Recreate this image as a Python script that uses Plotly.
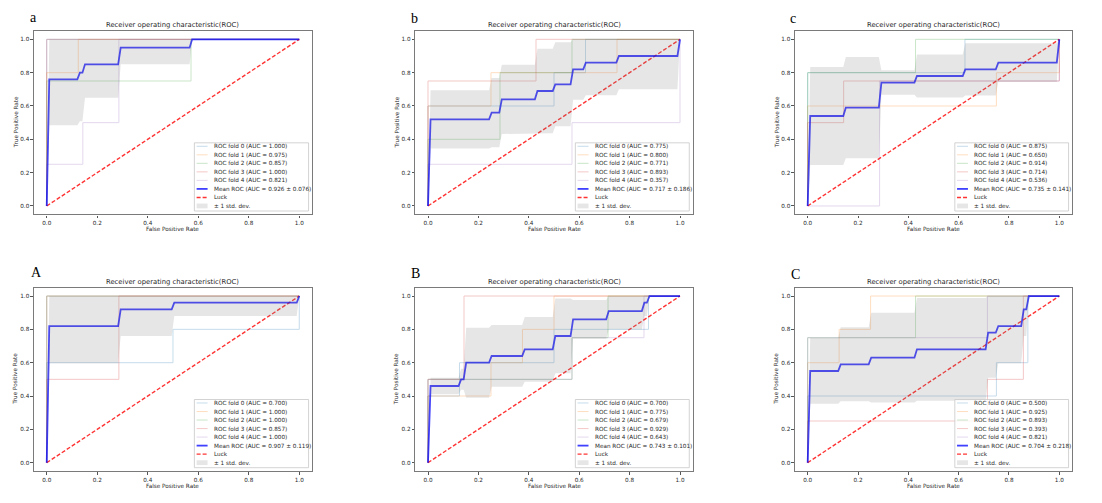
import plotly.graph_objects as go

# ---------------- data ----------------
tick_vals = [0.0, 0.2, 0.4, 0.6, 0.8, 1.0]
tick_text = ["0.0", "0.2", "0.4", "0.6", "0.8", "1.0"]
luck_x = [0, 1]
luck_y = [0, 1]

# panel a
a_fold_fpr = [[0, 0, 1], [0, 0, 0.125, 0.125, 1], [0, 0, 0.5714, 0.5714, 1], [0, 0, 1],
              [0, 0, 0.1429, 0.1429, 0.2857, 0.2857, 1]]
a_fold_tpr = [[0, 1, 1], [0, 0.8, 0.8, 1, 1], [0, 0.75, 0.75, 1, 1], [0, 1, 1],
              [0, 0.25, 0.25, 0.5, 0.5, 1, 1]]
a_fold_auc = ["1.000", "0.975", "0.857", "1.000", "0.821"]
a_mean_auc = "0.926 ± 0.076"
a_mean_fpr = [0, 0.0101, 0.1212, 0.1313, 0.1414, 0.1515, 0.2828, 0.2929, 0.5657, 0.5758, 1]
a_mean_tpr = [0, 0.76, 0.76, 0.80, 0.80, 0.85, 0.85, 0.95, 0.95, 1, 1]
a_std_lo = [0, 0.485, 0.485, 0.508, 0.508, 0.65, 0.65, 0.85, 0.85, 1, 1]
a_std_hi = [0, 1, 1, 1, 1, 1, 1, 1, 1, 1, 1]

# panel b
b_fold_fpr = [[0, 0, 0.5, 0.5, 0.625, 0.625, 1], [0, 0, 0.25, 0.25, 0.75, 0.75, 1],
              [0, 0, 0.2857, 0.2857, 0.5714, 0.5714, 1], [0, 0, 0.4286, 0.4286, 1],
              [0, 0, 0.5714, 0.5714, 1, 1]]
b_fold_tpr = [[0, 0.6, 0.6, 0.8, 0.8, 1, 1], [0, 0.6, 0.6, 0.8, 0.8, 1, 1],
              [0, 0.4, 0.4, 0.8, 0.8, 1, 1], [0, 0.75, 0.75, 1, 1],
              [0, 0.25, 0.25, 0.5, 0.5, 1]]
b_fold_auc = ["0.775", "0.800", "0.771", "0.893", "0.357"]
b_mean_auc = "0.717 ± 0.186"
b_mean_fpr = [0, 0.0101, 0.2424, 0.2525, 0.2828, 0.2929, 0.4242, 0.4343, 0.4949, 0.5051,
              0.5657, 0.5758, 0.6162, 0.6263, 0.7475, 0.7576, 0.9899, 1]
b_mean_tpr = [0, 0.52, 0.52, 0.56, 0.56, 0.64, 0.64, 0.69, 0.69, 0.73, 0.73, 0.82, 0.82,
              0.86, 0.86, 0.90, 0.90, 1]
b_std_lo = [0, 0.345, 0.345, 0.352, 0.352, 0.432, 0.432, 0.436, 0.436, 0.478, 0.478, 0.637,
            0.637, 0.664, 0.664, 0.70, 0.70, 1]
b_std_hi = [0, 0.695, 0.695, 0.768, 0.768, 0.848, 0.848, 0.944, 0.944, 0.982, 0.982, 1, 1,
            1, 1, 1, 1, 1]

# panel c
c_fold_fpr = [[0, 0, 0.625, 0.625, 1], [0, 0, 0.75, 0.75, 1, 1], [0, 0, 0.4286, 0.4286, 1],
              [0, 0, 0.1429, 0.1429, 1, 1], [0, 0.2857, 0.2857, 1, 1]]
c_fold_tpr = [[0, 0.8, 0.8, 1, 1], [0, 0.6, 0.6, 0.8, 0.8, 1], [0, 0.8, 0.8, 1, 1],
              [0, 0.5, 0.5, 0.75, 0.75, 1], [0, 0, 0.75, 0.75, 1]]
c_fold_auc = ["0.875", "0.650", "0.914", "0.714", "0.536"]
c_mean_auc = "0.735 ± 0.141"
c_mean_fpr = [0, 0.0101, 0.1414, 0.1515, 0.2828, 0.2929, 0.4242, 0.4343, 0.6162, 0.6263,
              0.7475, 0.7576, 0.9899, 1]
c_mean_tpr = [0, 0.54, 0.54, 0.59, 0.59, 0.74, 0.74, 0.78, 0.78, 0.82, 0.82, 0.86, 0.86, 1]
c_std_lo = [0, 0.246, 0.246, 0.286, 0.286, 0.667, 0.667, 0.651, 0.651, 0.663, 0.663, 0.744,
            0.744, 1]
c_std_hi = [0, 0.834, 0.834, 0.894, 0.894, 0.814, 0.814, 0.909, 0.909, 0.977, 0.977, 0.976,
            0.976, 1]

# panel A
A_fold_fpr = [[0, 0, 0.5, 0.5, 1, 1], [0, 0, 1], [0, 0, 1], [0, 0, 0.2857, 0.2857, 1], [0, 0, 1]]
A_fold_tpr = [[0, 0.6, 0.6, 0.8, 0.8, 1], [0, 1, 1], [0, 1, 1], [0, 0.5, 0.5, 1, 1], [0, 1, 1]]
A_fold_auc = ["0.700", "1.000", "1.000", "0.857", "1.000"]
A_mean_auc = "0.907 ± 0.119"
A_mean_fpr = [0, 0.0101, 0.2828, 0.2929, 0.4949, 0.5051, 0.9899, 1]
A_mean_tpr = [0, 0.82, 0.82, 0.92, 0.92, 0.96, 0.96, 1]
A_std_lo = [0, 0.597, 0.597, 0.76, 0.76, 0.88, 0.88, 1]
A_std_hi = [0, 1, 1, 1, 1, 1, 1, 1]

# panel B
B_fold_fpr = [[0, 0, 0.125, 0.125, 0.5, 0.5, 0.875, 0.875, 1],
              [0, 0, 0.25, 0.25, 0.375, 0.375, 0.5, 0.5, 1],
              [0, 0, 0.5714, 0.5714, 0.7143, 0.7143, 1], [0, 0, 0.1429, 0.1429, 1],
              [0, 0, 0.5714, 0.5714, 0.8571, 0.8571, 1]]
B_fold_tpr = [[0, 0.4, 0.4, 0.6, 0.6, 0.8, 0.8, 1, 1], [0, 0.4, 0.4, 0.6, 0.6, 0.8, 0.8, 1, 1],
              [0, 0.5, 0.5, 0.75, 0.75, 1, 1], [0, 0.5, 0.5, 1, 1],
              [0, 0.5, 0.5, 0.75, 0.75, 1, 1]]
B_fold_auc = ["0.700", "0.775", "0.679", "0.929", "0.643"]
B_mean_auc = "0.743 ± 0.101"
B_mean_fpr = [0, 0.0101, 0.1212, 0.1313, 0.1414, 0.1515, 0.2424, 0.2525, 0.3737, 0.3838,
              0.4949, 0.5051, 0.5657, 0.5758, 0.7071, 0.7172, 0.8485, 0.8586, 0.8687, 0.8788, 1]
B_mean_tpr = [0, 0.46, 0.46, 0.50, 0.50, 0.60, 0.60, 0.64, 0.64, 0.68, 0.68, 0.76, 0.76,
              0.86, 0.86, 0.91, 0.91, 0.96, 0.96, 1, 1]
B_std_lo = [0, 0.411, 0.411, 0.437, 0.437, 0.390, 0.390, 0.455, 0.455, 0.486, 0.486, 0.536,
            0.536, 0.744, 0.744, 0.799, 0.799, 0.88, 0.88, 1, 1]
B_std_hi = [0, 0.509, 0.509, 0.563, 0.563, 0.810, 0.810, 0.826, 0.826, 0.874, 0.874, 0.985,
            0.985, 0.976, 0.976, 1, 1, 1, 1, 1, 1]

# panel C
C_fold_fpr = [[0, 0, 0.75, 0.75, 0.875, 0.875, 1], [0, 0, 0.125, 0.125, 0.25, 0.25, 1],
              [0, 0, 0.4286, 0.4286, 1], [0, 0, 0.7143, 0.7143, 0.8571, 0.8571, 1],
              [0, 0, 0.7143, 0.7143, 1]]
C_fold_tpr = [[0, 0.4, 0.4, 0.6, 0.6, 1, 1], [0, 0.6, 0.6, 0.8, 0.8, 1, 1],
              [0, 0.75, 0.75, 1, 1], [0, 0.25, 0.25, 0.5, 0.5, 1, 1], [0, 0.75, 0.75, 1, 1]]
C_fold_auc = ["0.500", "0.925", "0.893", "0.393", "0.821"]
C_mean_auc = "0.704 ± 0.218"
C_mean_fpr = [0, 0.0101, 0.1212, 0.1313, 0.2424, 0.2525, 0.4242, 0.4343, 0.7071, 0.7172,
              0.7475, 0.7576, 0.8485, 0.8586, 0.8687, 0.8788, 1]
C_mean_tpr = [0, 0.55, 0.55, 0.59, 0.59, 0.63, 0.63, 0.68, 0.68, 0.78, 0.78, 0.82, 0.82,
              0.92, 0.92, 1, 1]
C_std_lo = [0, 0.353, 0.353, 0.368, 0.368, 0.361, 0.361, 0.372, 0.372, 0.509, 0.509, 0.597,
            0.597, 0.76, 0.76, 1, 1]
C_std_hi = [0, 0.748, 0.748, 0.812, 0.812, 0.899, 0.899, 0.988, 0.988, 1, 1, 1, 1, 1, 1, 1, 1]

panel_letters = ["a", "b", "c", "A", "B", "C"]
title_text = "Receiver operating characteristic(ROC)"

# ---------------- figure ----------------
W, H = 1102, 503
FOLD_COLORS = ["#1f77b4", "#ff7f0e", "#2ca02c", "#d62728", "#9467bd"]
FOLD_ALPHA = 0.25
MEAN_COLOR = "rgba(0,0,255,0.75)"
LUCK_COLOR = "rgba(255,0,0,0.8)"
BAND_COLOR = "rgba(128,128,128,0.2)"
TXT = "#262626"
FONT = "DejaVu Sans"

panels = [
    (a_fold_fpr, a_fold_tpr, a_fold_auc, a_mean_auc, a_mean_fpr, a_mean_tpr, a_std_lo, a_std_hi),
    (b_fold_fpr, b_fold_tpr, b_fold_auc, b_mean_auc, b_mean_fpr, b_mean_tpr, b_std_lo, b_std_hi),
    (c_fold_fpr, c_fold_tpr, c_fold_auc, c_mean_auc, c_mean_fpr, c_mean_tpr, c_std_lo, c_std_hi),
    (A_fold_fpr, A_fold_tpr, A_fold_auc, A_mean_auc, A_mean_fpr, A_mean_tpr, A_std_lo, A_std_hi),
    (B_fold_fpr, B_fold_tpr, B_fold_auc, B_mean_auc, B_mean_fpr, B_mean_tpr, B_std_lo, B_std_hi),
    (C_fold_fpr, C_fold_tpr, C_fold_auc, C_mean_auc, C_mean_fpr, C_mean_tpr, C_std_lo, C_std_hi),
]

col_left = [34.1, 415.4, 795.1]
col_right = [311.9, 692.6, 1071.9]
row_top = [31.0, 287.7]
row_bot = [214.3, 471.0]
letter_pos = [(33.7, 17.7), (414.5, 18.5), (792.7, 18.3), (36.7, 272.7), (415.7, 273.3), (795.3, 274.0)]

fig = go.Figure()
layout = dict(width=W, height=H, margin=dict(l=0, r=0, t=0, b=0),
              paper_bgcolor="white", plot_bgcolor="white", showlegend=False)
shapes, annotations = [], []

for k, (ffpr, ftpr, fauc, mauc, mfpr, mtpr, slo, shi) in enumerate(panels):
    r, c = divmod(k, 3)
    s = "" if k == 0 else str(k + 1)
    xa, ya = "x" + s, "y" + s
    L, R, T, B = col_left[c], col_right[c], row_top[r], row_bot[r]

    for i in range(5):
        fig.add_trace(go.Scatter(x=ffpr[i], y=ftpr[i], mode="lines", opacity=FOLD_ALPHA,
                                 line=dict(color=FOLD_COLORS[i], width=1),
                                 xaxis=xa, yaxis=ya, hoverinfo="skip"))
    fig.add_trace(go.Scatter(x=luck_x, y=luck_y, mode="lines",
                             line=dict(color=LUCK_COLOR, width=1.4, dash="4px,2px"),
                             xaxis=xa, yaxis=ya, hoverinfo="skip"))
    fig.add_trace(go.Scatter(x=mfpr, y=mtpr, mode="lines",
                             line=dict(color=MEAN_COLOR, width=1.8),
                             xaxis=xa, yaxis=ya, hoverinfo="skip"))
    fig.add_trace(go.Scatter(x=list(mfpr) + list(mfpr)[::-1], y=list(shi) + list(slo)[::-1],
                             mode="lines", fill="toself", fillcolor=BAND_COLOR,
                             line=dict(width=0), xaxis=xa, yaxis=ya, hoverinfo="skip"))

    axcommon = dict(range=[-0.05, 1.05], tickvals=tick_vals, ticktext=tick_text,
                    ticks="outside", ticklen=2.5, tickwidth=0.8, tickcolor="#555555",
                    showline=True, mirror=True, linecolor="#7a7a7a", linewidth=1.4,
                    showgrid=False, zeroline=False,
                    tickfont=dict(family=FONT, size=5.7, color=TXT), fixedrange=True)
    layout["xaxis" + s] = dict(axcommon, domain=[L / W, R / W], anchor=ya)
    layout["yaxis" + s] = dict(axcommon, domain=[1 - B / H, 1 - T / H], anchor=xa)

    cx, cy = (L + R) / 2, (T + B) / 2
    annotations.append(dict(text=title_text, x=cx / W, y=1 - (T - 6) / H, xref="paper",
                            yref="paper", showarrow=False, xanchor="center", yanchor="middle",
                            font=dict(family=FONT, size=6.8, color=TXT)))
    annotations.append(dict(text="False Positive Rate", x=cx / W, y=1 - (B + 14.5) / H,
                            xref="paper", yref="paper", showarrow=False, xanchor="center",
                            yanchor="middle", font=dict(family=FONT, size=5.7, color=TXT)))
    annotations.append(dict(text="True Positive Rate", x=(L - 18.6) / W, y=1 - cy / H,
                            xref="paper", yref="paper", showarrow=False, textangle=-90,
                            xanchor="center", yanchor="middle",
                            font=dict(family=FONT, size=5.7, color=TXT)))
    lx, ly = letter_pos[k]
    annotations.append(dict(text=panel_letters[k], x=lx / W, y=1 - ly / H, xref="paper",
                            yref="paper", showarrow=False, xanchor="center", yanchor="middle",
                            font=dict(family="Liberation Serif", size=14, color="black")))

    # legend (drawn in axis-domain coordinates)
    xd, yd = xa + " domain", ya + " domain"
    bx0, bx1, by0, by1 = 0.577, 0.988, 0.018, 0.39
    shapes.append(dict(type="rect", xref=xd, yref=yd, x0=bx0, x1=bx1, y0=by0, y1=by1,
                       line=dict(color="#c8c8c8", width=0.8), fillcolor="rgba(255,255,255,0.8)"))
    hx0, hx1, tx = 0.585, 0.6245, 0.640
    labels = ["ROC fold %d (AUC = %s)" % (i, fauc[i]) for i in range(5)]
    labels += ["Mean ROC (AUC = %s)" % mauc, "Luck", "± 1 std. dev."]
    for j, lab in enumerate(labels):
        yj = 0.371 - j * 0.0465
        if j < 5:
            shapes.append(dict(type="line", xref=xd, yref=yd, x0=hx0, x1=hx1, y0=yj, y1=yj,
                               opacity=FOLD_ALPHA, line=dict(color=FOLD_COLORS[j], width=1)))
        elif j == 5:
            shapes.append(dict(type="line", xref=xd, yref=yd, x0=hx0, x1=hx1, y0=yj, y1=yj,
                               line=dict(color=MEAN_COLOR, width=1.8)))
        elif j == 6:
            shapes.append(dict(type="line", xref=xd, yref=yd, x0=hx0, x1=hx1, y0=yj, y1=yj,
                               line=dict(color=LUCK_COLOR, width=1.4, dash="4px,2px")))
        else:
            shapes.append(dict(type="rect", xref=xd, yref=yd, x0=hx0, x1=hx1,
                               y0=yj - 0.013, y1=yj + 0.013, fillcolor=BAND_COLOR,
                               line=dict(width=0)))
        annotations.append(dict(text=lab, x=tx, y=yj, xref=xd, yref=yd, showarrow=False,
                                xanchor="left", yanchor="middle",
                                font=dict(family=FONT, size=5.7, color=TXT)))

layout["shapes"] = shapes
layout["annotations"] = annotations
fig.update_layout(**layout)
fig.write_html("out.html", config={"displayModeBar": False},
               post_script="document.body.style.margin='0';document.body.style.overflow='hidden';")
